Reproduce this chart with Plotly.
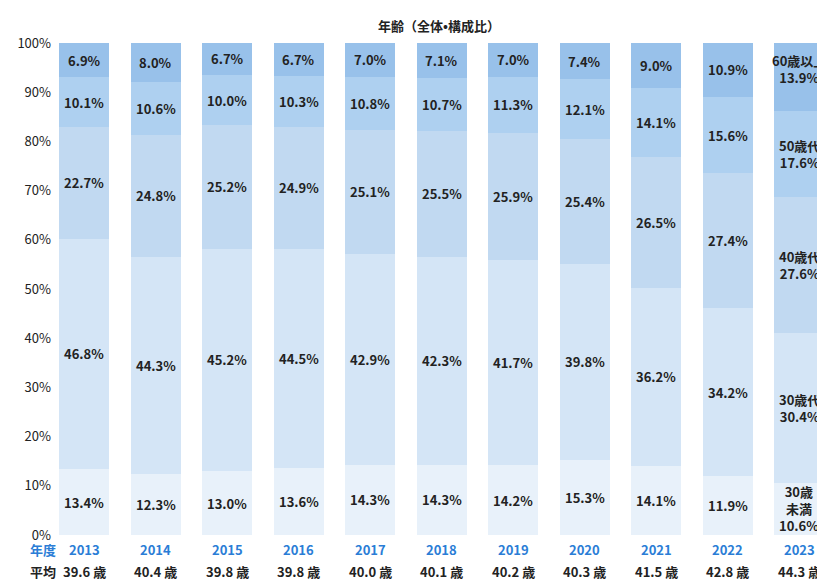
import plotly.graph_objects as go

years = ["2013","2014","2015","2016","2017","2018","2019","2020","2021","2022","2023"]
avg_age = ["39.6 歳","40.4 歳","39.8 歳","39.8 歳","40.0 歳","40.1 歳","40.2 歳","40.3 歳","41.5 歳","42.8 歳","44.3 歳"]
under30 = [13.4,12.3,13.0,13.6,14.3,14.3,14.2,15.3,14.1,11.9,10.6]
age30s = [46.8,44.3,45.2,44.5,42.9,42.3,41.7,39.8,36.2,34.2,30.4]
age40s = [22.7,24.8,25.2,24.9,25.1,25.5,25.9,25.4,26.5,27.4,27.6]
age50s = [10.1,10.6,10.0,10.3,10.8,10.7,11.3,12.1,14.1,15.6,17.6]
age60p = [6.9,8.0,6.7,6.7,7.0,7.1,7.0,7.4,9.0,10.9,13.9]
names = ["30歳<br>未満","30歳代","40歳代","50歳代","60歳以上"]
colors = ["#e8f1fa","#d4e5f6","#c1d9f1","#aed0f0","#98c1ea"]

FONT = "Noto Sans CJK JP"
fig = go.Figure()
xs = list(range(len(years)))
base = [0.0] * len(years)
anns = []
for vals, nm, col in zip([under30, age30s, age40s, age50s, age60p], names, colors):
    fig.add_trace(go.Bar(x=xs, y=vals, width=0.7, marker=dict(color=col, line=dict(width=0)),
                         hoverinfo="skip"))
    for i, v in enumerate(vals):
        t = f"<b>{v:.1f}%</b>"
        if i == len(vals) - 1:
            t = "<b>" + nm.replace("<br>", "</b><br><b>") + f"</b><br><b>{v:.1f}%</b>"
        yc = base[i] + v / 2
        if i == len(vals) - 1 and nm == "60歳以上":
            yc = base[i] + v * 0.62
        anns.append(dict(x=i, y=yc, xref="x", yref="y", text=t, showarrow=False,
                         font=dict(size=13, color="#222", family=FONT)))
        base[i] += v

for i, (y, a) in enumerate(zip(years, avg_age)):
    anns.append(dict(x=i, y=-0.052, xref="x", yref="paper", text=f"<b>{y}</b>", showarrow=False,
                     font=dict(size=13, color="#2a7dd6", family=FONT)))
    anns.append(dict(x=i, y=-0.097, xref="x", yref="paper", text=f"<b>{a}</b>", showarrow=False,
                     font=dict(size=13, color="#222", family=FONT)))
anns.append(dict(x=-0.031, y=-0.052, xref="paper", yref="paper", text="<b>年度</b>", showarrow=False,
                 font=dict(size=13, color="#2a7dd6", family=FONT)))
anns.append(dict(x=-0.031, y=-0.097, xref="paper", yref="paper", text="<b>平均</b>", showarrow=False,
                 font=dict(size=13, color="#222", family=FONT)))
anns.append(dict(x=0.495, y=1.0, xref="paper", yref="paper", yanchor="bottom", yshift=6,
                 text="<b>年齢（全体•構成比）</b>", showarrow=False, font=dict(size=13, color="#222", family=FONT)))

fig.update_layout(
    barmode="stack", width=825, height=580, showlegend=False,
    margin=dict(l=44, r=0, t=35, b=53, autoexpand=False),
    plot_bgcolor="white", paper_bgcolor="white",
    font=dict(family=FONT, size=13, color="#222"),
    annotations=anns,
    xaxis=dict(range=[-0.448, 10.475], showticklabels=False, showgrid=False, zeroline=False, ticks="",
               automargin=False),
    yaxis=dict(range=[0, 100], dtick=10, ticksuffix="%", showgrid=False, zeroline=False, automargin=False,
               tickfont=dict(size=13, color="#222", family=FONT)),
)
fig.write_html("out.html")
